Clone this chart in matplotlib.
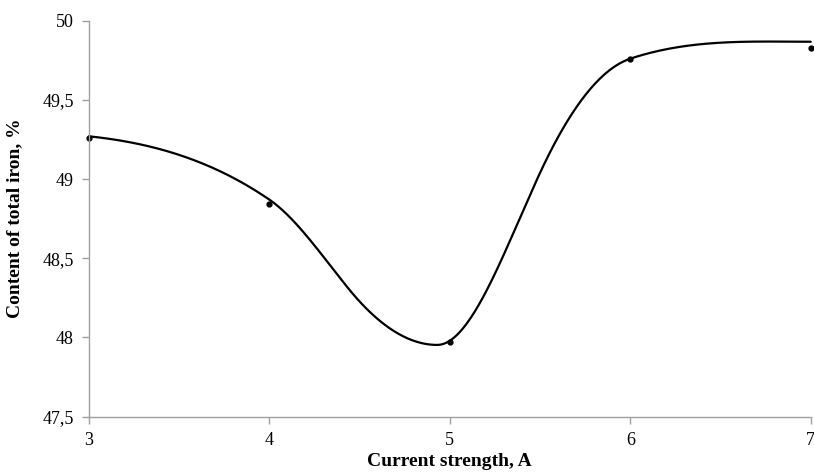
import numpy as np
import matplotlib
matplotlib.use("Agg")
import matplotlib.pyplot as plt
from matplotlib.ticker import FuncFormatter

# measured points (dots)
current = [3, 4, 5, 6, 7]
iron = [49.26, 48.84, 47.97, 49.76, 49.83]

# smoothed trend line: nodes and local slopes
trend_x = [3.0, 4.0, 4.43, 4.93, 5.5, 6.0, 7.0]
trend_y = [49.27, 48.87, 48.32, 47.953, 49.04, 49.76, 49.867]
trend_slope = [-0.12, -0.78, -1.42, 0.0, 2.45, 0.38, 0.0]

x_ticks = [3, 4, 5, 6, 7]
y_ticks = [47.5, 48, 48.5, 49, 49.5, 50]


def hermite(xs, ys, ds, n=80):
    x = np.asarray(xs, float)
    y = np.asarray(ys, float)
    d = np.asarray(ds, float)
    out_x, out_y = [], []
    for i in range(len(x) - 1):
        h = x[i + 1] - x[i]
        s = np.linspace(0, 1, n)
        h00 = 2 * s ** 3 - 3 * s ** 2 + 1
        h10 = s ** 3 - 2 * s ** 2 + s
        h01 = -2 * s ** 3 + 3 * s ** 2
        h11 = s ** 3 - s ** 2
        yy = h00 * y[i] + h10 * h * d[i] + h01 * y[i + 1] + h11 * h * d[i + 1]
        xx = x[i] + s * h
        if i > 0:
            xx, yy = xx[1:], yy[1:]
        out_x.append(xx)
        out_y.append(yy)
    return np.concatenate(out_x), np.concatenate(out_y)


plt.rcParams['font.family'] = ['Liberation Serif', 'DejaVu Serif']

fig = plt.figure(figsize=(8.14, 4.76), dpi=100)
ax = fig.add_axes([0.1093, 0.1246, 0.8867, 0.832])

sx, sy = hermite(trend_x, trend_y, trend_slope)
ax.plot(sx, sy, color='black', lw=1.6, solid_capstyle='round', clip_on=False)
ax.plot(current, iron, 'o', color='black', ms=3.5, clip_on=False)

ax.set_xlim(3, 7)
ax.set_ylim(47.5, 50)
ax.set_xticks(x_ticks)
ax.set_yticks(y_ticks)
fmt = FuncFormatter(lambda v, p: (('%g' % v).replace('.', ',')))
ax.xaxis.set_major_formatter(fmt)
ax.yaxis.set_major_formatter(fmt)

for s in ['top', 'right']:
    ax.spines[s].set_visible(False)
for s in ['left', 'bottom']:
    ax.spines[s].set_color('#a0a0a0')
    ax.spines[s].set_linewidth(1.0)
ax.tick_params(axis='both', colors='#a0a0a0', labelcolor='black', labelsize=13,
               length=5, direction='out', width=1.0)
ax.tick_params(axis='x', pad=6)
ax.tick_params(axis='y', pad=6)

ax.set_xlabel('Current strength, A', fontsize=14, fontweight='bold', labelpad=3)
ax.set_ylabel('Content of total iron, %', fontsize=14, fontweight='bold', labelpad=14)

fig.savefig('out.png', dpi=100)
